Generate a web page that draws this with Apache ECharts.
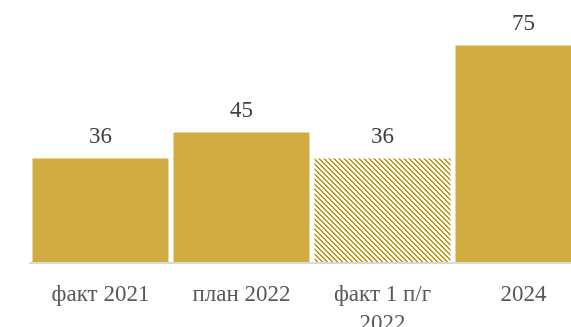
<!DOCTYPE html>
<html>
<head>
<meta charset="utf-8">
<script src="https://cdn.jsdelivr.net/npm/echarts@6/dist/echarts.min.js"></script>
<style>
html,body{margin:0;padding:0;background:#fff;}
#chart{width:571px;height:327px;}
</style>
</head>
<body>
<div id="chart"></div>
<script>
var categories = ['факт 2021', 'план 2022', 'факт 1 п/г 2022', '2024'];
var values = [36, 45, 36, 75];
var hatchedIndex = [2];

var solidColor = '#D1AC43';
var hatchColor = '#C29410';

function makePattern() {
  var n = 5;
  var c = document.createElement('canvas');
  c.width = n; c.height = n;
  var ctx = c.getContext('2d');
  ctx.fillStyle = '#ffffff';
  ctx.fillRect(0, 0, n, n);
  ctx.fillStyle = hatchColor;
  for (var i = 0; i < n; i++) {
    ctx.fillRect(i, i, 1, 1);
    ctx.fillRect((i + 1) % n, i, 1, 1);
  }
  return c;
}
var pattern = { image: makePattern(), repeat: 'repeat' };

var seriesData = values.map(function (v, i) {
  return {
    value: v,
    itemStyle: { color: hatchedIndex.indexOf(i) >= 0 ? pattern : solidColor }
  };
});

function wrapLabel(s) {
  if (s.length <= 12) return s;
  var k = s.lastIndexOf(' ');
  return s.slice(0, k) + '\n' + s.slice(k + 1);
}

var chart = echarts.init(document.getElementById('chart'), null, { renderer: 'canvas' });
chart.setOption({
  animation: false,
  backgroundColor: '#ffffff',
  grid: { left: 30, right: -23, top: 31, bottom: 64, containLabel: false, outerBoundsMode: 'none' },
  xAxis: {
    type: 'category',
    data: categories,
    z: 5,
    axisLine: { show: true, lineStyle: { color: '#D9D9D9', width: 2 } },
    axisTick: { show: false },
    axisLabel: {
      color: '#595959',
      fontFamily: 'Liberation Serif, Times New Roman, serif',
      fontSize: 23,
      margin: 17,
      lineHeight: 29,
      interval: 0,
      hideOverlap: false,
      formatter: wrapLabel
    }
  },
  yAxis: {
    type: 'value',
    min: 0,
    max: 80,
    show: false,
    splitLine: { show: false }
  },
  series: [{
    type: 'bar',
    data: seriesData,
    barWidth: 136,
    label: {
      show: true,
      position: 'top',
      distance: 10,
      color: '#404040',
      fontFamily: 'Liberation Serif, Times New Roman, serif',
      fontSize: 23
    }
  }]
});
</script>
</body>
</html>
